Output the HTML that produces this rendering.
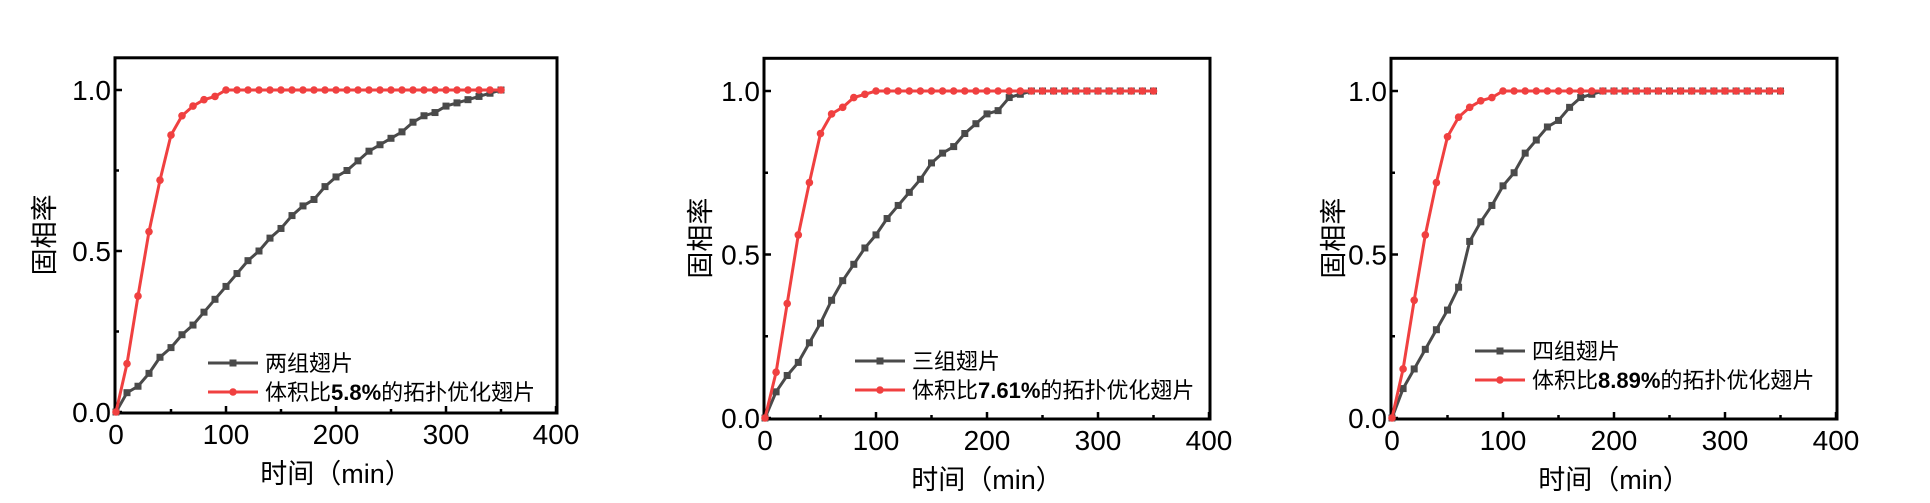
<!DOCTYPE html>
<html><head><meta charset="utf-8">
<style>
html,body{margin:0;padding:0;background:#fff;}
svg{display:block;font-family:"Liberation Sans","Noto Sans CJK SC",sans-serif;}
</style></head>
<body>
<svg id="chart" width="1930" height="503" viewBox="0 0 1930 503"></svg>
<script>
const xTicks = [0, 100, 200, 300, 400];
const yTicks = [0.0, 0.5, 1.0];
const yTickLabels = ["0.0", "0.5", "1.0"];
const times = [0,10,20,30,40,50,60,70,80,90,100,110,120,130,140,150,160,170,180,190,200,210,220,230,240,250,260,270,280,290,300,310,320,330,340,350];
const legendGray = ["两组翅片", "三组翅片", "四组翅片"];
const legendRedNum = ["5.8%", "7.61%", "8.89%"];
const red1 = [0,0.15,0.36,0.56,0.72,0.86,0.92,0.95,0.97,0.98,1,1,1,1,1,1,1,1,1,1,1,1,1,1,1,1,1,1,1,1,1,1,1,1,1,1];
const gray1 = [0,0.06,0.08,0.12,0.17,0.2,0.24,0.27,0.31,0.35,0.39,0.43,0.47,0.5,0.54,0.57,0.61,0.64,0.66,0.7,0.73,0.75,0.78,0.81,0.83,0.85,0.87,0.9,0.92,0.93,0.95,0.96,0.97,0.98,0.99,1.0];
const red2 = [0,0.14,0.35,0.56,0.72,0.87,0.93,0.95,0.98,0.99,1,1,1,1,1,1,1,1,1,1,1,1,1,1,1,1,1,1,1,1,1,1,1,1,1,1];
const gray2 = [0,0.08,0.13,0.17,0.23,0.29,0.36,0.42,0.47,0.52,0.56,0.61,0.65,0.69,0.73,0.78,0.81,0.83,0.87,0.9,0.93,0.94,0.98,0.99,1,1,1,1,1,1,1,1,1,1,1,1];
const red3 = [0,0.15,0.36,0.56,0.72,0.86,0.92,0.95,0.97,0.98,1,1,1,1,1,1,1,1,1,1,1,1,1,1,1,1,1,1,1,1,1,1,1,1,1,1];
const gray3 = [0,0.09,0.15,0.21,0.27,0.33,0.40,0.54,0.60,0.65,0.71,0.75,0.81,0.85,0.89,0.91,0.95,0.98,0.99,1,1,1,1,1,1,1,1,1,1,1,1,1,1,1,1,1];

const NS = "http://www.w3.org/2000/svg";
const svg = document.getElementById("chart");
function mk(tag, attrs, parent){const e=document.createElementNS(NS,tag);for(const k in attrs)e.setAttribute(k,attrs[k]);(parent||svg).appendChild(e);return e;}

const panels = [
 {x0:116, y0:412, ppx:1.10, ppy:322, red:red1, gray:gray1, lx:208, ly:363, ylx:47},
 {x0:765, y0:418, ppx:1.11, ppy:327, red:red2, gray:gray2, lx:855, ly:361, ylx:703},
 {x0:1392, y0:418, ppx:1.11, ppy:327, red:red3, gray:gray3, lx:1475, ly:351, ylx:1336}
];
const GRAY="#4a4a4a", RED="#f04040";

panels.forEach((p,i)=>{
  const g = mk("g",{});
  
  
  const sx = v=>p.x0+v*p.ppx, sy=v=>p.y0-v*p.ppy;
  const left=sx(0)-1, right=sx(400)+1, top=sy(1.1), bot=p.y0+1;
  const frame = mk("rect",{x:left,y:top,width:right-left,height:bot-top,fill:"none",stroke:"#000","stroke-width":3},g);
  
  
  for(let v=0; v<=400; v+=50){
    const major = v%100===0;
    mk("line",{x1:sx(v),x2:sx(v),y1:bot,y2:bot-(major?7:4),stroke:"#000","stroke-width":2.5},g);
  }
  xTicks.forEach(v=>{
    const t=mk("text",{x:sx(v),y:bot+31,"text-anchor":"middle","font-size":28,fill:"#000"},g);
    t.textContent=v;
    
    
  });
  for(let v=0; v<=1.001; v+=0.25){
    const major = Math.abs(v*2-Math.round(v*2))<1e-6;
    mk("line",{x1:left,x2:left+(major?7:4),y1:sy(v),y2:sy(v),stroke:"#000","stroke-width":2.5},g);
  }
  yTicks.forEach((v,k)=>{
    const t=mk("text",{x:left-4,y:sy(v)+10,"text-anchor":"end","font-size":28,fill:"#000"},g);
    t.textContent=yTickLabels[k];
    
    
  });
  const yl=mk("text",{x:p.ylx,y:sy(0.55),"text-anchor":"middle","font-size":27,fill:"#000",transform:`rotate(-90 ${p.ylx} ${sy(0.55)})`,"dominant-baseline":"middle"},g);
  yl.textContent="固相率";
  
  
  const xl=mk("text",{x:sx(200),y:bot+70,"text-anchor":"middle","font-size":27,fill:"#000"},g);
  xl.textContent="时间（min）";
  
  
  function series(vals,color,shape,name){
    const sg=mk("g",{},g);
    
    
    const pts=vals.map((v,k)=>sx(times[k])+","+sy(v)).join(" ");
    mk("polyline",{points:pts,fill:"none",stroke:color,"stroke-width":3,"stroke-linejoin":"round"},sg);
    vals.forEach((v,k)=>{
      let m;
      if(shape==="sq") m=mk("rect",{x:sx(times[k])-3.5,y:sy(v)-3.5,width:7,height:7,fill:color},sg);
      else m=mk("circle",{cx:sx(times[k]),cy:sy(v),r:3.8,fill:color},sg);
      
      
    });
  }
  series(p.gray,GRAY,"sq","series-gray");
  series(p.red,RED,"ci","series-red");
  const lg=mk("g",{},g);
  
  
  mk("line",{x1:p.lx,x2:p.lx+50,y1:p.ly,y2:p.ly,stroke:GRAY,"stroke-width":3},lg);
  mk("rect",{x:p.lx+21.5,y:p.ly-3.5,width:7,height:7,fill:GRAY},lg);
  const t1=mk("text",{x:p.lx+57,y:p.ly+8,"font-size":22,fill:"#000"},lg);
  t1.textContent=legendGray[i];
  
  
  mk("line",{x1:p.lx,x2:p.lx+50,y1:p.ly+29,y2:p.ly+29,stroke:RED,"stroke-width":3},lg);
  mk("circle",{cx:p.lx+25,cy:p.ly+29,r:3.8,fill:RED},lg);
  const t2=mk("text",{x:p.lx+57,y:p.ly+37,"font-size":22,fill:"#000"},lg);
  
  
  const a=mk("tspan",{},t2); a.textContent="体积比";
  const b=mk("tspan",{"font-weight":"bold"},t2); b.textContent=legendRedNum[i];
  const c=mk("tspan",{},t2); c.textContent="的拓扑优化翅片";
});
</script>
</body></html>
